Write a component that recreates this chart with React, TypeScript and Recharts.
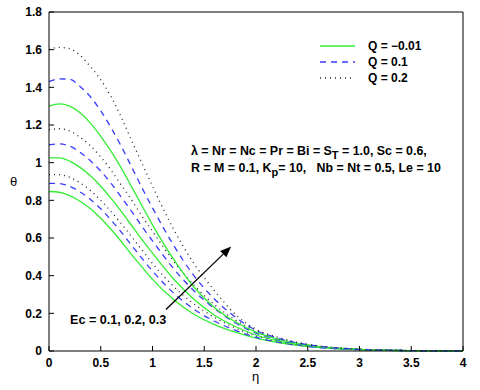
import { LineChart, Line, XAxis, YAxis, ReferenceLine } from 'recharts';

// eta grid (x)
const ETA = [0, 0.1, 0.2, 0.3, 0.4, 0.5, 0.6, 0.7, 0.8, 0.9, 1.0, 1.2, 1.4, 1.6, 1.8, 2.0, 2.2, 2.4, 2.6, 2.8, 3.0, 3.5, 4.0];

// Ec = 0.1
const G_EC1 = [0.847, 0.843, 0.825, 0.795, 0.755, 0.705, 0.645, 0.58, 0.51, 0.445, 0.38, 0.275, 0.195, 0.14, 0.1, 0.068, 0.046, 0.03, 0.019, 0.012, 0.007, 0.002, 0];
const B_EC1 = [0.89, 0.889, 0.874, 0.845, 0.805, 0.755, 0.695, 0.63, 0.56, 0.49, 0.425, 0.31, 0.222, 0.158, 0.11, 0.073, 0.048, 0.031, 0.019, 0.011, 0.007, 0.002, 0];
const D_EC1 = [0.936, 0.936, 0.922, 0.893, 0.852, 0.8, 0.74, 0.675, 0.605, 0.535, 0.465, 0.345, 0.25, 0.178, 0.122, 0.08, 0.052, 0.033, 0.02, 0.012, 0.007, 0.002, 0];
// Ec = 0.2
const G_EC2 = [1.025, 1.025, 1.008, 0.975, 0.93, 0.875, 0.81, 0.74, 0.665, 0.59, 0.52, 0.385, 0.275, 0.19, 0.13, 0.085, 0.055, 0.035, 0.022, 0.013, 0.008, 0.002, 0];
const B_EC2 = [1.095, 1.1, 1.088, 1.055, 1.01, 0.955, 0.89, 0.815, 0.74, 0.66, 0.585, 0.44, 0.32, 0.225, 0.15, 0.095, 0.061, 0.038, 0.023, 0.014, 0.008, 0.002, 0];
const D_EC2 = [1.175, 1.18, 1.168, 1.135, 1.09, 1.03, 0.96, 0.88, 0.8, 0.715, 0.635, 0.48, 0.35, 0.245, 0.165, 0.105, 0.067, 0.041, 0.025, 0.015, 0.009, 0.002, 0];
// Ec = 0.3
const G_EC3 = [1.3, 1.312, 1.3, 1.265, 1.21, 1.14, 1.06, 0.97, 0.87, 0.77, 0.67, 0.49, 0.34, 0.23, 0.155, 0.1, 0.064, 0.04, 0.025, 0.015, 0.009, 0.002, 0];
const B_EC3 = [1.43, 1.445, 1.443, 1.405, 1.35, 1.275, 1.185, 1.085, 0.975, 0.865, 0.76, 0.565, 0.4, 0.275, 0.18, 0.11, 0.07, 0.043, 0.026, 0.016, 0.009, 0.002, 0];
const D_EC3 = [1.6, 1.612, 1.605, 1.57, 1.51, 1.44, 1.35, 1.24, 1.115, 0.995, 0.875, 0.65, 0.465, 0.32, 0.195, 0.115, 0.075, 0.046, 0.028, 0.017, 0.01, 0.003, 0];

const X_TICKS = [0, 0.5, 1, 1.5, 2, 2.5, 3, 3.5, 4];
const Y_TICKS = [0, 0.2, 0.4, 0.6, 0.8, 1, 1.2, 1.4, 1.6, 1.8];

const LEGEND = ['Q = \u22120.01', 'Q = 0.1', 'Q = 0.2'];
const ARROW = [{ x: 1.13, y: 0.22 }, { x: 1.76, y: 0.555 }];

const GREEN = '#33ee33';
const BLUE = '#3a3aff';
const DOT = '#222';
const FONT = '"Liberation Sans", Arial, sans-serif';

const data = ETA.map((eta, i) => ({
  eta,
  g1: G_EC1[i], b1: B_EC1[i], d1: D_EC1[i],
  g2: G_EC2[i], b2: B_EC2[i], d2: D_EC2[i],
  g3: G_EC3[i], b3: B_EC3[i], d3: D_EC3[i],
}));

const series = [
  { key: 'g1', color: GREEN, dash: undefined },
  { key: 'b1', color: BLUE, dash: '6 5' },
  { key: 'd1', color: DOT, dash: '1 4' },
  { key: 'g2', color: GREEN, dash: undefined },
  { key: 'b2', color: BLUE, dash: '6 5' },
  { key: 'd2', color: DOT, dash: '1 4' },
  { key: 'g3', color: GREEN, dash: undefined },
  { key: 'b3', color: BLUE, dash: '6 5' },
  { key: 'd3', color: DOT, dash: '1 4' },
];

const legendStyles = [
  { color: GREEN, dash: undefined },
  { color: BLUE, dash: '6 5' },
  { color: DOT, dash: '1 4' },
];

const tickStyle = { fill: '#000', fontSize: 12, fontWeight: 'bold', fontFamily: FONT };

function Arrow(props: any) {
  const { x1, y1, x2, y2 } = props;
  const ang = Math.atan2(y2 - y1, x2 - x1);
  const len = 11;
  const w = 4.5;
  const bx = x2 - len * Math.cos(ang);
  const by = y2 - len * Math.sin(ang);
  const px = -Math.sin(ang) * w;
  const py = Math.cos(ang) * w;
  return (
    <g>
      <line x1={x1} y1={y1} x2={bx} y2={by} stroke="#000" strokeWidth={1.3} />
      <polygon points={`${x2},${y2} ${bx + px},${by + py} ${bx - px},${by - py}`} fill="#000" />
    </g>
  );
}

export default function App() {
  const txt = { position: 'absolute' as const, fontFamily: FONT, fontWeight: 'bold' as const, fontSize: 12.4, color: '#000', whiteSpace: 'pre' as const, lineHeight: '14px' };
  const sub = { fontSize: 11, verticalAlign: '-4px', lineHeight: 0 };
  return (
    <div style={{ position: 'absolute', left: 0, top: 0, width: 480, height: 390, background: '#fff' }}>
      <LineChart width={480} height={390} data={data} margin={{ top: 11, right: 16, bottom: 0, left: 0 }}>
        <XAxis dataKey="eta" type="number" domain={[0, 4]} ticks={X_TICKS} height={39}
          tickSize={-5} tickMargin={12} tick={tickStyle} stroke="#000" tickLine={{ stroke: '#000' }} />
        <XAxis xAxisId="top" orientation="top" dataKey="eta" type="number" domain={[0, 4]} ticks={X_TICKS} height={1}
          tickSize={-5} tick={false} stroke="#000" tickLine={{ stroke: '#000' }} />
        <YAxis type="number" domain={[0, 1.8]} ticks={Y_TICKS} width={49}
          tickSize={-5} tickMargin={12} tick={tickStyle} stroke="#000" tickLine={{ stroke: '#000' }} />
        <YAxis yAxisId="right" orientation="right" type="number" domain={[0, 1.8]} ticks={Y_TICKS} width={1}
          tickSize={-5} tick={false} stroke="#000" tickLine={{ stroke: '#000' }} />
        {series.map((s) => (
          <Line key={s.key} dataKey={s.key} type="monotone" stroke={s.color} strokeWidth={1.3}
            strokeDasharray={s.dash} dot={false} activeDot={false} isAnimationActive={false} />
        ))}
        <ReferenceLine segment={ARROW} stroke="#000" shape={(p: any) => <Arrow {...p} />} />
      </LineChart>

      {/* legend */}
      <div style={{ position: 'absolute', left: 318, top: 38 }}>
        {LEGEND.map((label, i) => (
          <div key={label} style={{ display: 'flex', alignItems: 'center', height: 16 }}>
            <svg width={40} height={8}>
              <line x1={2} y1={4} x2={37} y2={4} stroke={legendStyles[i].color} strokeWidth={1.3}
                strokeDasharray={legendStyles[i].dash} />
            </svg>
            <span style={{ fontFamily: FONT, fontWeight: 'bold', fontSize: 12, marginLeft: 10 }}>{label}</span>
          </div>
        ))}
      </div>

      {/* parameter annotation */}
      <div style={{ ...txt, left: 191, top: 144 }}>
        λ = Nr = Nc = Pr = Bi = S<sub style={sub}>T</sub> = 1.0, Sc = 0.6,
      </div>
      <div style={{ ...txt, left: 191, top: 161 }}>
        R = M = 0.1, K<sub style={sub}>p</sub>= 10,   Nb = Nt = 0.5, Le = 10
      </div>
      <div style={{ ...txt, left: 70, top: 313, fontSize: 12.6 }}>Ec = 0.1, 0.2, 0.3</div>

      {/* axis titles */}
      <div style={{ position: 'absolute', left: 252, top: 369, fontFamily: FONT, fontSize: 13 }}>η</div>
      <div style={{ position: 'absolute', left: 10, top: 174, fontFamily: FONT, fontSize: 13 }}>θ</div>
    </div>
  );
}
